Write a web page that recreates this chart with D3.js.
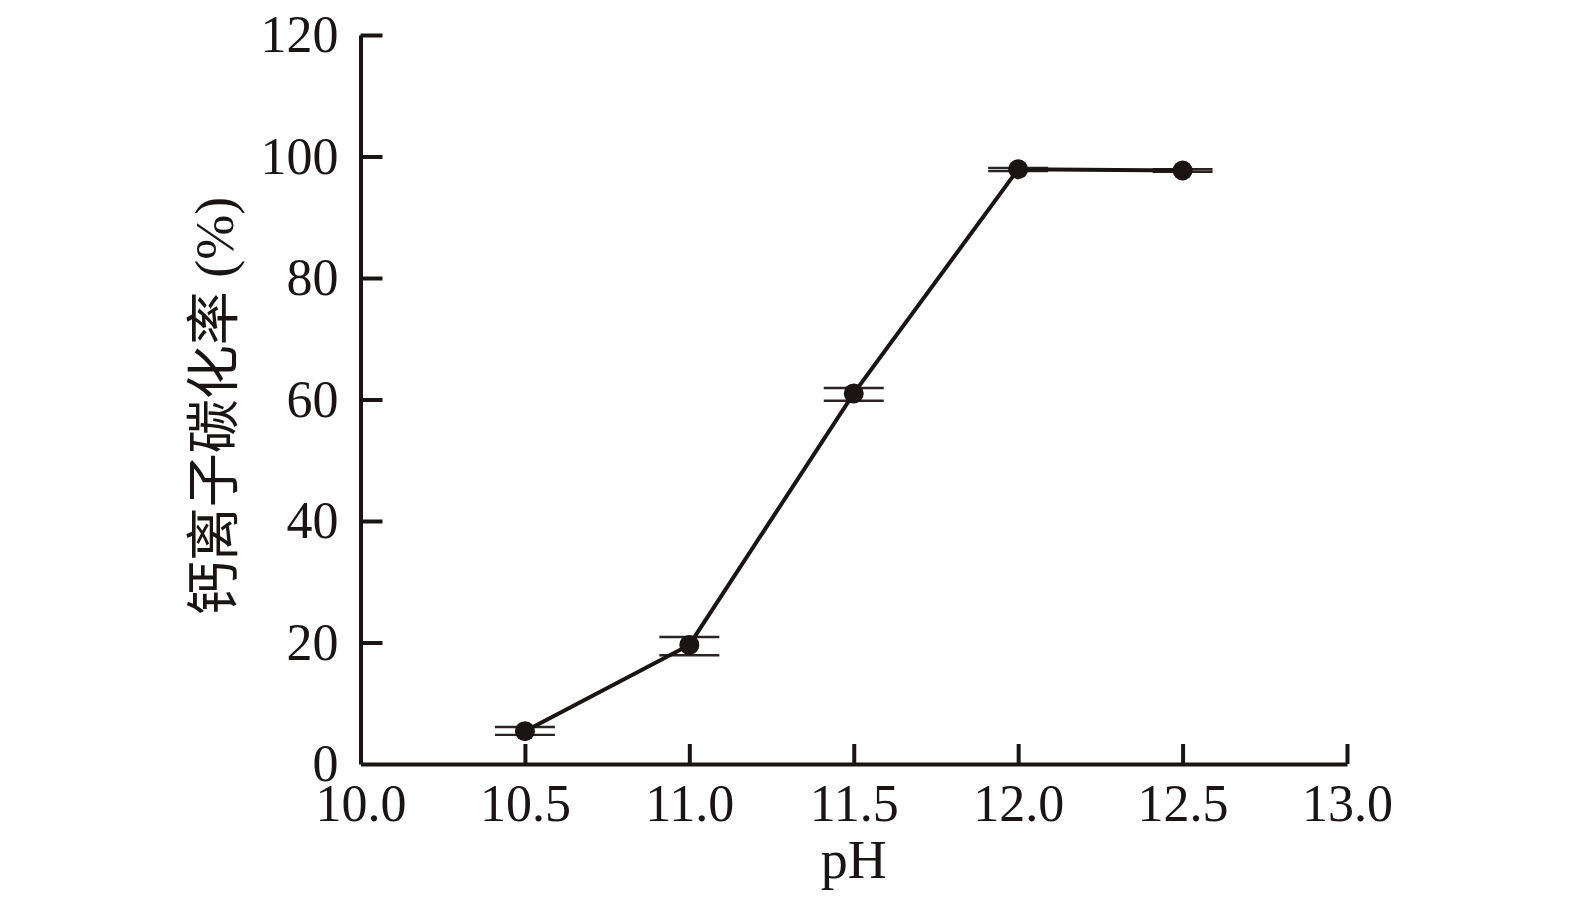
<!DOCTYPE html>
<html><head><meta charset="utf-8">
<script src="https://cdn.jsdelivr.net/npm/d3@7"></script>
<style>body{margin:0;background:#fff}</style>
</head><body>
<svg id="c" width="1575" height="906"></svg>
<script>
const phValues = [10.5, 11.0, 11.5, 12.0, 12.5];
const carbonationRate = [5.4, 19.6, 61.0, 97.9, 97.7];
const errLow = [4.8, 17.9, 59.8, 97.6, 97.5];
const errHigh = [6.1, 20.9, 61.9, 98.1, 97.9];
const xTicks = [10.0, 10.5, 11.0, 11.5, 12.0, 12.5, 13.0];
const yTicks = [0, 20, 40, 60, 80, 100, 120];
const xTitle = "pH";
const yTitle = "钙离子碳化率 (%)";

const svg = d3.select("#c");
const x = d3.scaleLinear().domain([10, 13]).range([360.5, 1347]);
const y = d3.scaleLinear().domain([0, 120]).range([764, 35]);
const ink = "#1a1414";
const serif = "'Liberation Serif','Times New Roman',serif";

// axes
const xAxis = svg.append("g").attr("transform", `translate(0,${y(0)})`)
  .call(d3.axisBottom(x).tickValues(xTicks).tickFormat(d3.format(".1f")).tickSizeInner(-20).tickSizeOuter(0).tickPadding(23));
const yAxis = svg.append("g").attr("transform", `translate(${x(10)},0)`)
  .call(d3.axisLeft(y).tickValues(yTicks).tickSizeInner(-22).tickSizeOuter(0).tickPadding(22));
[xAxis, yAxis].forEach(a => {
  a.select(".domain").attr("stroke", ink).attr("stroke-width", 4);
  a.selectAll(".tick line").attr("stroke", ink).attr("stroke-width", 4);
  a.selectAll(".tick text").attr("fill", ink).attr("font-family", serif).attr("font-size", 52);
});
xAxis.selectAll(".tick text").attr("dy", "0.66em");
yAxis.selectAll(".tick text").attr("dy", "0.32em");
xAxis.selectAll(".tick").filter(d => d === 10).select("line").remove();
yAxis.selectAll(".tick").filter(d => d === 0).select("line").remove();

const data = phValues.map((p, i) => ({p, v: carbonationRate[i], lo: errLow[i], hi: errHigh[i]}));

// error caps
const capHalf = 30;
const caps = svg.append("g");
data.forEach(d => {
  [d.lo, d.hi].forEach(val => {
    caps.append("line")
      .attr("x1", x(d.p) - capHalf).attr("x2", x(d.p) + capHalf)
      .attr("y1", y(val)).attr("y2", y(val))
      .attr("stroke", "#2a2424").attr("stroke-width", 2.4);
  });
});

// line
svg.append("path").datum(data)
  .attr("d", d3.line().x(d => x(d.p)).y(d => y(d.v)))
  .attr("fill", "none").attr("stroke", ink).attr("stroke-width", 4);

// points
svg.append("g").selectAll("circle").data(data).join("circle")
  .attr("cx", d => x(d.p)).attr("cy", d => y(d.v)).attr("r", 10).attr("fill", ink);

// titles
svg.append("text").attr("x", (x(10) + x(13)) / 2).attr("y", 878)
  .attr("text-anchor", "middle").attr("font-family", serif).attr("font-size", 54).attr("fill", ink).text(xTitle);
svg.append("text").attr("transform", "translate(233,406) rotate(-90)")
  .attr("text-anchor", "middle").attr("font-family", "'Liberation Serif','Noto Sans CJK SC',serif")
  .attr("font-size", 54).attr("fill", ink).text(yTitle);
</script>
</body></html>
